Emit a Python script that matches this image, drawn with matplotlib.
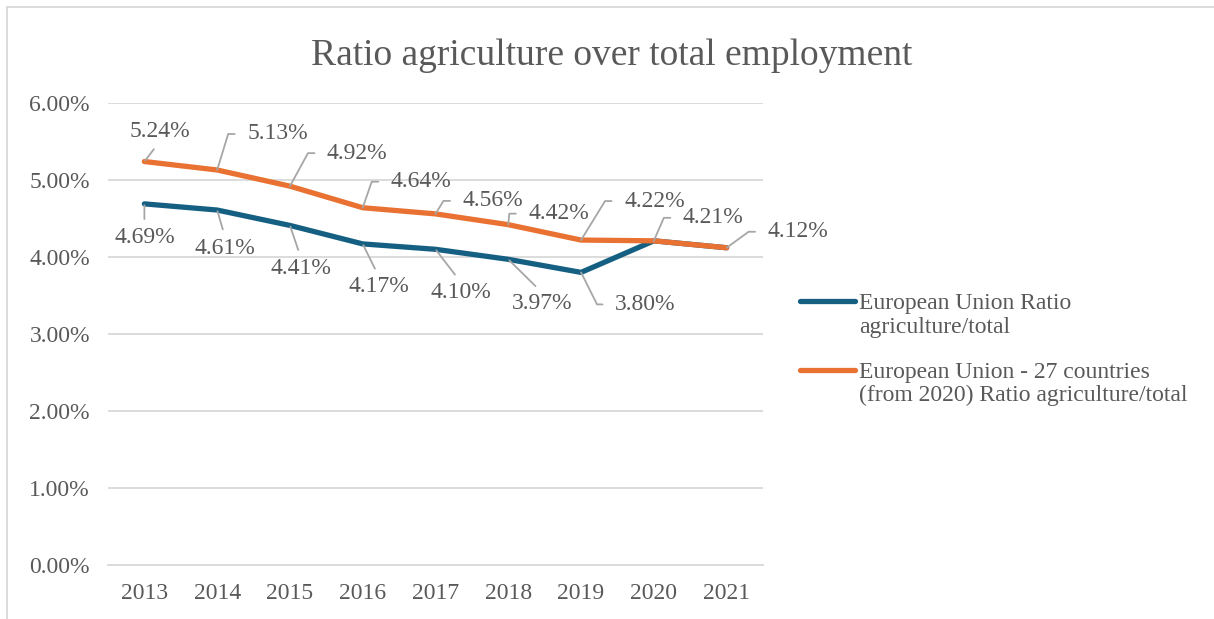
import math

import matplotlib
matplotlib.use("Agg")
import matplotlib.pyplot as plt
import numpy as np
from matplotlib.lines import Line2D
from matplotlib.patches import Rectangle
from matplotlib.ticker import FuncFormatter, MultipleLocator

plt.rcParams['font.family'] = ['Liberation Serif', 'DejaVu Serif']

# data (percent)
years = ['2013', '2014', '2015', '2016', '2017', '2018', '2019', '2020', '2021']
eu_ratio = [4.69, 4.61, 4.41, 4.17, 4.10, 3.97, 3.80, 4.21, 4.12]
eu27_ratio = [5.24, 5.13, 4.92, 4.64, 4.56, 4.42, 4.22, 4.21, 4.12]
series_names = [['European Union Ratio', 'agriculture/total'],
                ['European Union - 27 countries', '(from 2020) Ratio agriculture/total']]

BLUE = '#156082'
ORANGE = '#E97132'
TEXT = '#595959'
GRID = '#D9D9D9'
LEADER = '#A6A6A6'

W, H = 1214, 619
fig = plt.figure(figsize=(W / 100, H / 100), dpi=100)
ax = fig.add_axes([108 / W, 54 / H, 655 / W, 462 / H])

x = np.arange(len(years))
ax.plot(x, eu_ratio, color=BLUE, lw=3.8, solid_joinstyle='round', solid_capstyle='round', zorder=3)
ax.plot(x, eu27_ratio, color=ORANGE, lw=3.8, solid_joinstyle='round', solid_capstyle='round', zorder=4)

ax.set_xlim(-0.5, len(years) - 0.5)
ax.set_ylim(0, 6)
ax.yaxis.set_major_locator(MultipleLocator(1))
ax.yaxis.set_major_formatter(FuncFormatter(lambda v, p: f'{v:.2f}%'))
ax.set_xticks(x, years)
ax.grid(axis='y', color=GRID, lw=1.3)
ax.set_axisbelow(True)
for s in ['top', 'right', 'left']:
    ax.spines[s].set_visible(False)
ax.spines['bottom'].set_color(GRID)
ax.spines['bottom'].set_linewidth(1.3)
ax.tick_params(length=0, labelsize=17, labelcolor=TEXT)
ax.tick_params(axis='y', pad=13)
ax.tick_params(axis='x', pad=13)

# ---- data labels with leader lines (offsets in pixels) ----
LABEL_KW = dict(textcoords='offset pixels', fontsize=17, color=TEXT, zorder=6)


def side_label(i, v, corner, dy=0):
    # leader goes from the point to a corner, then a short horizontal tail
    cx, cy = corner
    angle_b = math.degrees(math.atan2(cy, cx))
    ax.annotate(f'{v:.2f}%', xy=(i, v), xytext=(cx + 19, cy + dy), ha='left', va='center',
                arrowprops=dict(arrowstyle='-', color=LEADER, lw=1.3, relpos=(0, 0.5),
                                shrinkA=7, shrinkB=0,
                                connectionstyle=f'angle,angleA=0,angleB={angle_b},rad=0'),
                **LABEL_KW)


def straight_label(i, v, center, below=True):
    ax.annotate(f'{v:.2f}%', xy=(i, v), xytext=center, ha='center', va='center',
                arrowprops=dict(arrowstyle='-', color=LEADER, lw=1.3,
                                relpos=(0.5, 1.0) if below else (0.5, 0.0),
                                shrinkA=4, shrinkB=1),
                **LABEL_KW)


# orange series
straight_label(0, eu27_ratio[0], (15, 30), below=False)
eu27_corners = [(11, 36), (18, 33), (9, 26), (8, 13), (1, 11), (24, 39), (10, 23), (22, 16)]
for i, c in enumerate(eu27_corners, start=1):
    side_label(i, eu27_ratio[i], c)

# blue series (2020/2021 coincide with the orange ones)
eu_centers = [(0, -34), (8, -38), (11, -43), (16, -43), (25, -43), (34, -44)]
for i, c in enumerate(eu_centers):
    straight_label(i, eu_ratio[i], c, below=True)
side_label(6, eu_ratio[6], (15, -30), dy=-2)

# ---- title ----
fig.text(612 / W, 1 - 65 / H, 'Ratio agriculture over total employment',
         ha='center', va='baseline', fontsize=27, color=TEXT)

# ---- legend (handle aligned with first text line, like the original) ----
legend_y = [301, 370]
for lines, color, ly in zip(series_names, [BLUE, ORANGE], legend_y):
    fig.add_artist(Line2D([800 / W, 855 / W], [1 - ly / H, 1 - ly / H], color=color, lw=3.8,
                          solid_capstyle='round', transform=fig.transFigure))
    for k, line in enumerate(lines):
        fig.text(859 / W, 1 - (ly + 8 + 23.5 * k) / H, line, ha='left', va='baseline',
                 fontsize=17, color=TEXT)

# chart area border
fig.add_artist(Rectangle((7 / W, -0.1), 1.2, 1.1 - 7 / H, transform=fig.transFigure,
                         fill=False, ec=GRID, lw=1.3))

fig.savefig('out.png', dpi=100)
